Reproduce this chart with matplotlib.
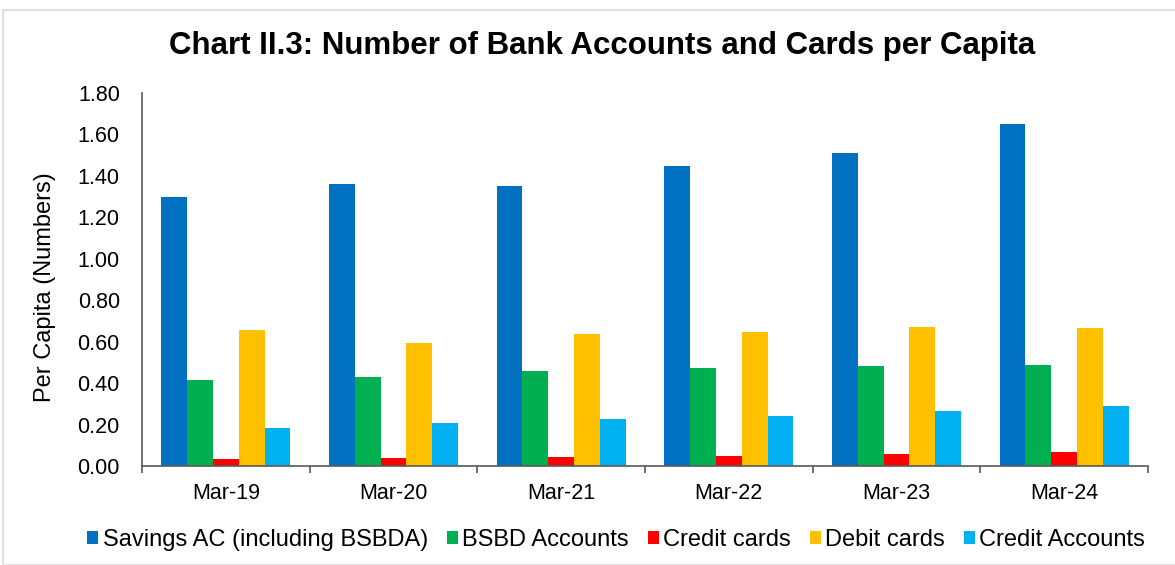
import matplotlib
matplotlib.use("Agg")
import matplotlib.pyplot as plt
from matplotlib.patches import Rectangle
import numpy as np

plt.rcParams['font.family'] = ['Liberation Sans', 'DejaVu Sans']

categories = ["Mar-19", "Mar-20", "Mar-21", "Mar-22", "Mar-23", "Mar-24"]
series_names = ["Savings AC (including BSBDA)", "BSBD Accounts", "Credit cards",
                "Debit cards", "Credit Accounts"]
savings = [1.30, 1.36, 1.35, 1.45, 1.51, 1.65]
bsbd = [0.415, 0.43, 0.46, 0.473, 0.483, 0.487]
credit_cards = [0.035, 0.040, 0.044, 0.049, 0.058, 0.068]
debit_cards = [0.656, 0.594, 0.637, 0.647, 0.671, 0.666]
credit_accounts = [0.183, 0.208, 0.228, 0.242, 0.266, 0.29]
yticks = [0.0, 0.2, 0.4, 0.6, 0.8, 1.0, 1.2, 1.4, 1.6, 1.8]

colors = ["#0070C0", "#00B050", "#FF0000", "#FFC000", "#00B0F0"]
data = [savings, bsbd, credit_cards, debit_cards, credit_accounts]

fig = plt.figure(figsize=(11.75, 5.65), dpi=100)
ax = fig.add_axes([142/1175, 1-466/565, (1148-142)/1175, (466-93)/565])

x = np.arange(len(categories))
w = 0.154
for i, (vals, c, name) in enumerate(zip(data, colors, series_names)):
    ax.bar(x + (i - 2) * w, vals, width=w, color=c, label=name, linewidth=0)

ax.set_xlim(-0.5, len(categories) - 0.5)
ax.set_ylim(0, 1.8)
ax.set_yticks(yticks)
ax.set_yticklabels([f"{v:.2f}" for v in yticks], fontsize=15.5)
ax.set_xticks(x)
ax.set_xticklabels(categories, fontsize=15.5)
ax.set_xticks(np.arange(-0.5, len(categories)), minor=True)
ax.tick_params(axis='x', which='major', length=0, pad=12)
ax.tick_params(axis='x', which='minor', length=5, width=1.2, color='#595959', direction='out')
ax.tick_params(axis='y', length=0, pad=16)
for s in ['top', 'right']:
    ax.spines[s].set_visible(False)
for s in ['left', 'bottom']:
    ax.spines[s].set_color('#595959')
    ax.spines[s].set_linewidth(1.2)
ax.set_ylabel("Per Capita (Numbers)", fontsize=17)
ax.yaxis.set_label_coords(-0.0855, 0.48)

fig.text(602/1175, 1-46/565, "Chart II.3: Number of Bank Accounts and Cards per Capita",
         ha='center', va='center', fontsize=22.5, fontweight='bold')

fig.legend(loc='center', bbox_to_anchor=(616/1175, 1-540/565), ncol=5, frameon=False,
           fontsize=17, handlelength=0.47, handleheight=0.47, handletextpad=0.18,
           columnspacing=0.8)

fig.patches.append(Rectangle((3/1175, 0), 1.0, 1-10/565, transform=fig.transFigure,
                             fill=False, edgecolor='#E0E0E0', linewidth=1.5))

fig.savefig("out.png", dpi=100)
